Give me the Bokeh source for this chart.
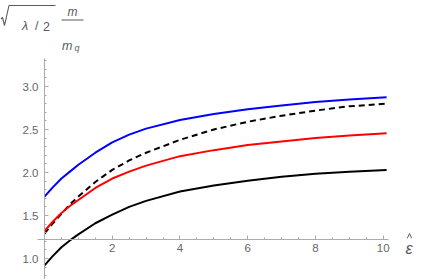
from bokeh.plotting import figure
from bokeh.models import Range1d, FixedTicker
from bokeh.embed import file_html
from bokeh.resources import INLINE
from bokeh.core.properties import value

# ---------------- data ----------------
eps_hat = [0, 0.25, 0.5, 0.75, 1, 1.5, 2, 2.5, 3, 4, 5, 6, 7, 8, 9, 10.1]
blue_curve = [1.72, 1.83, 1.93, 2.01, 2.09, 2.23, 2.35, 2.44, 2.51, 2.61, 2.68, 2.735, 2.78, 2.82, 2.85, 2.875]
dashed_curve = [1.29, 1.41, 1.52, 1.63, 1.72, 1.89, 2.03, 2.14, 2.23, 2.38, 2.50, 2.59, 2.66, 2.72, 2.77, 2.80]
red_curve = [1.32, 1.43, 1.53, 1.61, 1.68, 1.82, 1.93, 2.01, 2.08, 2.19, 2.26, 2.32, 2.36, 2.40, 2.43, 2.455]
black_curve = [0.92, 1.03, 1.13, 1.21, 1.28, 1.41, 1.51, 1.60, 1.67, 1.78, 1.85, 1.905, 1.95, 1.985, 2.01, 2.03]

x_ticks = [2, 4, 6, 8, 10]
x_tick_labels = ["2", "4", "6", "8", "10"]
x_minor_ticks = [0.5 * i for i in range(1, 21)]
y_ticks = [1.0, 1.5, 2.0, 2.5, 3.0]
y_tick_labels = ["1.0", "1.5", "2.0", "2.5", "3.0"]
y_minor_ticks = [round(0.7 + 0.1 * i, 1) for i in range(0, 27)]

# ---------------- geometry ----------------
W, H = 423, 279
X0_PX, X_SCALE = 44.0, 33.87     # pixel of x=0, pixels per unit
Y1_PX, Y_SCALE = 258.0, 86.0     # pixel of y=1, pixels per unit


def dx(px):
    return (px - X0_PX) / X_SCALE


def dy(py):
    return 1 + (Y1_PX - py) / Y_SCALE


AX = "#ababab"
LAB = "#666666"
TXT = "#5a5a5a"
FONT = "Liberation Sans"

p = figure(width=W, height=H,
           x_range=Range1d(dx(0), dx(W)), y_range=Range1d(dy(H), dy(0)),
           output_backend="svg", toolbar_location=None, min_border=0)
p.outline_line_color = None
p.background_fill_color = "white"
p.border_fill_color = "white"
p.xgrid.visible = False
p.ygrid.visible = False

# axes crossing inside the plot, like Mathematica's
xa = p.xaxis[0]
xa.fixed_location = dy(239)
xa.bounds = (dx(37), dx(388))
xa.ticker = FixedTicker(ticks=x_ticks, minor_ticks=x_minor_ticks)
xa.major_label_overrides = {t: l for t, l in zip(x_ticks, x_tick_labels)}

ya = p.yaxis[0]
ya.fixed_location = 0
ya.bounds = (dy(H), dy(58))
ya.ticker = FixedTicker(ticks=y_ticks, minor_ticks=y_minor_ticks)
ya.major_label_overrides = {t: l for t, l in zip(y_ticks, y_tick_labels)}

for ax in (xa, ya):
    ax.axis_line_color = AX
    ax.axis_line_width = 1
    ax.major_tick_line_color = AX
    ax.minor_tick_line_color = AX
    ax.major_tick_in = 4
    ax.major_tick_out = 0
    ax.minor_tick_in = 2
    ax.minor_tick_out = 0
    ax.major_label_text_font = FONT
    ax.major_label_text_font_size = "11.5px"
    ax.major_label_text_color = LAB
xa.major_label_standoff = 4
ya.major_label_standoff = 6

# curves
p.line(eps_hat, blue_curve, line_color="#0000ff", line_width=2, line_join="round")
p.line(eps_hat, dashed_curve, line_color="black", line_width=2, line_dash="6 4", line_join="round")
p.line(eps_hat, red_curve, line_color="#ff0000", line_width=2, line_join="round")
p.line(eps_hat, black_curve, line_color="black", line_width=2, line_join="round")

# y-axis label:  sqrt(lambda/2) m / m_q
rad_px = [(0.5, 18.5), (2.0, 17.0), (4.0, 25.0), (8.5, 5.0), (55.0, 5.0)]
p.line([dx(a) for a, b in rad_px], [dy(b) for a, b in rad_px], line_color=TXT, line_width=1.1)


def txt(px, py, s, size, style="normal", align="left"):
    p.text(x=[dx(px)], y=[dy(py)], text=[s], text_font=value(FONT), text_font_size=size,
           text_font_style=style, text_color=TXT, text_align=align, text_baseline="alphabetic")


txt(21.5, 25.5, "λ", "12.5px", "italic")
txt(34.5, 25.5, "/", "12.5px")
txt(42.5, 25.5, "2", "12.5px")
txt(72.0, 11.5, "m", "12px", "italic", "center")
p.line([dx(61), dx(83)], [dy(19.5), dy(19.5)], line_color=TXT, line_width=1)
txt(61.5, 45.5, "m", "12.5px", "italic")
txt(74.0, 47.0, "q", "9px", "italic")

# x-axis label: epsilon hat
txt(405.0, 248.0, "ε", "16px", "italic")
hat_px = [(406.8, 237.8), (409.0, 233.0), (411.2, 237.8)]
p.line([dx(a) for a, b in hat_px], [dy(b) for a, b in hat_px], line_color=TXT, line_width=1)

open("out.html", "w").write(file_html(p, INLINE))
